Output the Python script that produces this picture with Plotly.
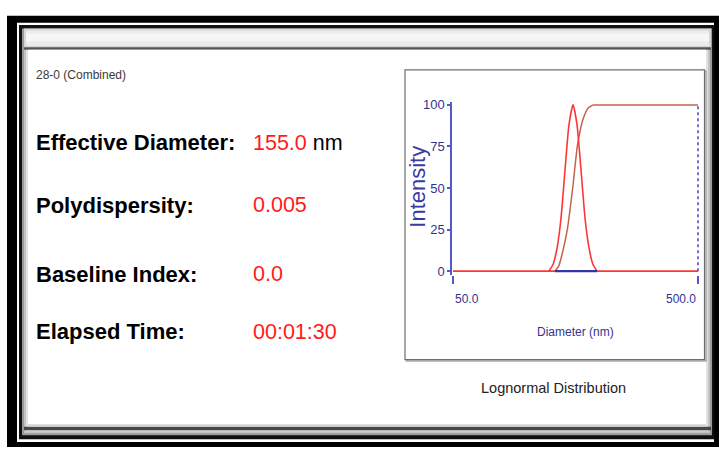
import numpy as np
import plotly.graph_objects as go

# ---------------- data ----------------
diam_zero = [50, 500]
int_zero = [0, 0]

diam_dist = [123, 128, 133, 138, 143.3, 148.7, 154.5, 160.4, 166.5, 172.9, 179.5, 186.4, 193.6]
int_dist = [0, 4, 14, 32, 61, 88, 100, 88, 61, 32, 14, 4, 0]

diam_cum = [130.4, 135, 139.3, 146.4, 154, 160.8, 166, 170.2, 177.8, 186.9, 500]
int_cum = [0, 3, 10, 25, 50, 75, 86, 92, 98, 100, 100]

diam_base = [130.4, 193.6]
int_base = [0, 0]

diam_limit = [500, 500]
int_limit = [0, 100]

y_ticks = [0, 25, 50, 75, 100]
x_ticks = [50, 500]
x_tick_text = ["50.0", "500.0"]

labels = ["Effective Diameter:", "Polydispersity:", "Baseline Index:", "Elapsed Time:"]
values = ["155.0", "0.005", "0.0", "00:01:30"]
units = ["nm", "", "", ""]
sample_name = "28-0 (Combined)"
dist_title = "Lognormal Distribution"

# ---------------- geometry helpers ----------------
W, H = 719, 451
def px(x):
    return x / W
def py(y):
    return 1 - y / H

SANS = "Liberation Sans, Arial, sans-serif"
NAVY = "#33338f"
AXBLUE = "#5858c4"

xpad = 0.004
ypad = 2
ppd = 245.0  # px per decade
ppu = (272 - 102.7) / 100.0

fig = go.Figure()

fig.add_trace(go.Scatter(x=diam_zero, y=int_zero, mode="lines",
                         line=dict(color="#ff3535", width=1.6),
                         hoverinfo="skip", showlegend=False))
fig.add_trace(go.Scatter(x=diam_cum[:-1], y=int_cum[:-1], mode="lines",
                         line=dict(color="#c4624c", width=1.5, shape="spline", smoothing=0.6),
                         hoverinfo="skip", showlegend=False))
fig.add_trace(go.Scatter(x=diam_cum[-2:], y=int_cum[-2:], mode="lines",
                         line=dict(color="#c4624c", width=1.5),
                         hoverinfo="skip", showlegend=False))
fig.add_trace(go.Scatter(x=diam_dist, y=int_dist, mode="lines",
                         line=dict(color="#ff3535", width=1.6, shape="spline", smoothing=0.6),
                         hoverinfo="skip", showlegend=False))
fig.add_trace(go.Scatter(x=diam_base, y=int_base, mode="lines",
                         line=dict(color="#3535aa", width=2.2),
                         hoverinfo="skip", showlegend=False))
fig.add_trace(go.Scatter(x=diam_limit, y=int_limit, mode="lines",
                         line=dict(color="#4545b5", width=1.5, dash="3px,3px"),
                         hoverinfo="skip", showlegend=False))

# ---------------- frame shapes ----------------
shapes = []
def rect(x0, y0, x1, y1, fill, line_color=None, lw=0):
    d = dict(type="rect", xref="paper", yref="paper",
             x0=px(x0), x1=px(x1), y0=py(y1), y1=py(y0),
             fillcolor=fill, layer="below",
             line=dict(width=lw, color=line_color or fill))
    shapes.append(d)

rect(7, 12, 719, 451, "#000000")           # outer black frame
rect(17, 19, 714, 446, "#ffffff")          # white gap
rect(19, 21.5, 714, 443, "#111111")        # window dark frame
rect(22, 25, 712, 439, "#9a9a9a")          # window gray edge
rect(24, 26, 710, 437, "#c4c4c4")
rect(26, 27, 708, 435, "#e2e2e2")
rect(24, 25, 711, 44.5, "#d6d6d6")         # title band
rect(26, 27, 709, 42.5, "#ececec")
rect(26, 30, 709, 38, "#f6f6f6")
rect(24, 44, 711, 46.5, "#555555")         # title bottom line
rect(24, 430.5, 711, 434, "#474747")       # bottom dark line
rect(28, 46.5, 706, 428, "#ffffff")        # content
rect(28, 428, 706, 430.5, "#d0d0d0")
# chart box with shadow
rect(406.5, 68.5, 706, 363.5, "rgba(0,0,0,0)", "#a8a8a8", 1.5)
rect(405, 67, 704.5, 362, "#ffffff", "#6e6e6e", 1.2)

# ---------------- annotations ----------------
ann = []
ann.append(dict(text=sample_name, x=px(34), y=py(72.5), xref="paper", yref="paper",
                xanchor="left", yanchor="middle", showarrow=False,
                font=dict(family=SANS, size=12, color="#3a3a3a")))
row_y = [141.5, 205, 275, 333.5]
for lab, val, unit, yy in zip(labels, values, units, row_y):
    ann.append(dict(text="<b>" + lab + "</b>", x=px(34), y=py(yy), xref="paper", yref="paper",
                    xanchor="left", yanchor="middle", showarrow=False,
                    font=dict(family=SANS, size=22, color="#000000")))
    txt = '<span style="color:#ff1a1a">' + val + "</span>"
    if unit:
        txt += " " + unit
    ann.append(dict(text=txt, x=px(250.5), y=py(yy), xref="paper", yref="paper",
                    xanchor="left", yanchor="middle", showarrow=False,
                    font=dict(family=SANS, size=21.5, color="#000000")))

ann.append(dict(text="Intensity", x=px(418), y=py(186), xref="paper", yref="paper",
                xanchor="center", yanchor="middle", showarrow=False, textangle=-90,
                font=dict(family=SANS, size=22, color="#3a3aa0")))
ann.append(dict(text="Diameter (nm)", x=px(575), y=py(334), xref="paper", yref="paper",
                xanchor="center", yanchor="middle", showarrow=False,
                font=dict(family=SANS, size=12, color=NAVY)))
ann.append(dict(text=dist_title, x=px(553), y=py(391), xref="paper", yref="paper",
                xanchor="center", yanchor="middle", showarrow=False,
                font=dict(family=SANS, size=14.5, color="#222222")))
for tv, tt, anc in zip(x_ticks, x_tick_text, ["left", "right"]):
    ann.append(dict(text=tt, x=np.log10(tv), y=py(300), xref="x", yref="paper",
                    xanchor=anc, yanchor="middle", showarrow=False,
                    font=dict(family=SANS, size=12, color=NAVY)))

x0p = 453 - ppd * xpad
x1p = 698 + ppd * xpad
y0p = 272 + ppu * ypad
y1p = 102.7 - ppu * ypad

fig.update_layout(
    width=W, height=H, autosize=False,
    margin=dict(l=0, r=0, t=0, b=0, pad=0),
    paper_bgcolor="#ffffff", plot_bgcolor="rgba(0,0,0,0)",
    shapes=shapes, annotations=ann, showlegend=False,
    xaxis=dict(type="log", range=[np.log10(x_ticks[0]) - xpad, np.log10(x_ticks[-1]) + xpad],
               domain=[px(x0p), px(x1p)], showgrid=False, zeroline=False, showline=False,
               tickvals=x_ticks, ticks="outside", ticklen=8, tickcolor=AXBLUE, tickwidth=1.5,
               showticklabels=False, fixedrange=True),
    yaxis=dict(range=[y_ticks[0] - ypad, y_ticks[-1] + ypad],
               domain=[py(y0p), py(y1p)], showgrid=False, zeroline=False,
               showline=True, linecolor=AXBLUE, linewidth=1.5,
               tickvals=y_ticks, ticks="outside", ticklen=3, tickcolor=AXBLUE, tickwidth=1.5,
               tickfont=dict(family=SANS, size=13, color=NAVY), fixedrange=True),
)

fig.write_html("out.html", config={"displayModeBar": False},
               post_script="document.body.style.margin='0px';document.body.style.padding='0px';")
